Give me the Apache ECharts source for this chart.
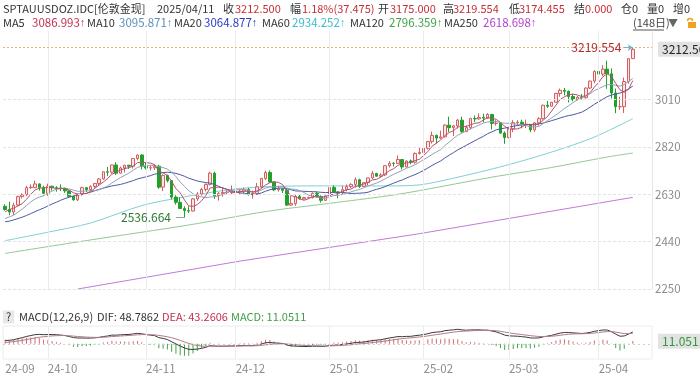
<!DOCTYPE html>
<html>
<head>
<meta charset="utf-8">
<script src="https://cdn.jsdelivr.net/npm/echarts@6/dist/echarts.min.js"></script>
<style>
  html, body { margin: 0; padding: 0; background: #fff; }
  #chart { width: 700px; height: 377px; }
</style>
</head>
<body>
<div id="chart"></div>
<script>
// 日线 [open, close, low, high]，2024-09-17 ~ 2025-04-11，共148日
const candles = [
  [2582,2569,2565,2590],[2569,2559,2546,2600],[2559,2586,2547,2596],[2587,2621,2584,2625],[2621,2628,2614,2634],
  [2628,2657,2624,2664],[2657,2659,2652,2670],[2657,2672,2655,2685],[2672,2658,2645,2674],[2658,2634,2625,2665],
  // 10月
  [2634,2663,2624,2673],[2663,2657,2645,2664],[2657,2656,2641,2663],[2656,2653,2643,2670],[2653,2644,2636,2657],
  [2644,2622,2615,2646],[2622,2608,2605,2625],[2608,2630,2603,2633],[2630,2657,2625,2661],[2657,2649,2640,2658],
  [2649,2662,2642,2666],[2662,2674,2654,2675],[2674,2692,2664,2696],[2692,2721,2689,2722],[2721,2719,2703,2740],
  [2719,2748,2713,2749],[2748,2715,2708,2759],[2715,2736,2715,2742],[2736,2747,2718,2749],[2747,2743,2732,2748],
  [2743,2774,2734,2774],[2774,2788,2766,2790],[2788,2743,2730,2791],
  // 11月
  [2743,2736,2730,2760],[2736,2737,2726,2746],[2737,2743,2728,2750],[2743,2659,2652,2749],[2659,2706,2643,2710],
  [2706,2685,2678,2709],[2685,2619,2610,2686],[2619,2598,2589,2626],[2598,2573,2572,2618],[2573,2565,2536.664,2582],
  [2565,2563,2555,2582],[2563,2612,2562,2615],[2612,2631,2604,2639],[2631,2650,2626,2656],[2650,2670,2642,2674],
  [2670,2715,2666,2721],[2715,2625,2612,2721],[2625,2633,2605,2639],[2633,2638,2621,2657],[2638,2639,2630,2646],
  [2639,2643,2631,2666],
  // 12月
  [2643,2640,2621,2650],[2640,2643,2632,2649],[2643,2650,2634,2657],[2650,2632,2625,2656],[2632,2633,2613,2645],
  [2633,2660,2631,2676],[2660,2694,2655,2696],[2694,2718,2688,2725],[2718,2680,2677,2726],[2680,2648,2643,2682],
  [2648,2652,2641,2664],[2652,2646,2635,2654],[2646,2587,2583,2655],[2587,2593,2584,2625],[2593,2622,2584,2632],
  [2622,2612,2609,2630],[2612,2617,2610,2620],[2617,2617,2612,2621],[2617,2634,2613,2638],[2634,2621,2617,2641],
  [2621,2606,2597,2626],[2606,2624,2603,2627],
  // 1月
  [2624,2658,2624,2664],[2658,2640,2636,2666],[2640,2636,2614,2642],[2636,2649,2630,2664],[2649,2661,2642,2670],
  [2661,2670,2656,2675],[2670,2689,2657,2698],[2689,2662,2656,2693],[2662,2677,2660,2679],[2677,2696,2666,2697],
  [2696,2714,2691,2724],[2714,2703,2701,2716],[2703,2708,2697,2715],[2708,2745,2703,2746],[2745,2755,2738,2763],
  [2755,2754,2742,2759],[2754,2770,2752,2786],[2770,2740,2730,2772],[2740,2764,2738,2766],[2764,2759,2751,2770],
  [2759,2794,2753,2799],[2794,2798,2790,2817],
  // 2月
  [2798,2815,2772,2830],[2815,2842,2810,2845],[2842,2867,2834,2882],[2867,2856,2834,2870],[2856,2861,2853,2886],
  [2861,2908,2858,2911],[2908,2898,2880,2942],[2898,2905,2864,2909],[2905,2928,2894,2933],[2928,2882,2877,2942],
  [2882,2898,2880,2907],[2898,2935,2890,2937],[2935,2933,2920,2947],[2933,2939,2930,2955],[2939,2936,2919,2954],
  [2936,2951,2933,2956],[2951,2915,2890,2953],[2915,2916,2906,2928],[2916,2876,2874,2920],[2876,2858,2833,2883],
  // 3月
  [2858,2893,2855,2895],[2893,2918,2880,2928],[2918,2920,2904,2928],[2920,2910,2895,2930],[2910,2911,2896,2930],
  [2910,2889,2880,2913],[2889,2917,2881,2921],[2917,2934,2906,2940],[2934,2988,2930,2990],[2988,2984,2977,3005],
  [2984,3000,2982,3001],[3000,3035,2999,3038],[3035,3048,3022,3055],[3048,3044,3028,3057],[3044,3023,2999,3047],
  [3023,3011,3004,3035],[3011,3020,3008,3025],[3020,3018,3011,3033],[3018,3057,3015,3059],[3057,3085,3053,3087],
  [3085,3124,3076,3128],
  // 4月
  [3124,3113,3101,3149],[3113,3133,3105,3149],[3133,3114,3054,3167],[3114,3037,3015,3136],[3037,2982,2956,3055],
  [2982,2982,2970,3022],[2982,3083,2957,3099],[3083,3175,3074,3176],[3175,3212.5,3174.455,3219.554]
];

// 窗口之前的收盘价（用于 MA / MACD 预热）
const priorCloses = [2512,2485,2512,2518,2524,2504,2521,2503,2500,2493,2495,2517,2497,2506,2516,2512,2558,2578,2582];

// 长周期均线：[K线序号, 值]
const ma60Pts  = [[0,2444],[10,2478],[20,2515],[32,2585],[42,2620],[54,2652],[65,2663],[76,2664],[90,2664],[97,2668],[105,2695],[117,2745],[128,2800],[138,2860],[147,2934]];
const ma120Pts = [[0,2393],[20,2447],[43,2507],[61,2561],[76,2594],[90,2625],[97,2645],[114,2699],[128,2738],[141,2780],[147,2796]];
const ma250Pts = [[17,2250],[55,2362],[97,2472],[147,2618]];

const yTicks = [2250, 2440, 2630, 2820, 3010];
const hiPoint = 3219.554, loPoint = 2536.664, lastClose = 3212.5, lastMacd = 11.0511;

// 交易日（工作日，元旦休市）
const dates = [];
for (let d = new Date(Date.UTC(2024, 8, 17)); d <= new Date(Date.UTC(2025, 3, 11)); d.setUTCDate(d.getUTCDate() + 1)) {
  const wd = d.getUTCDay();
  const s = d.toISOString().slice(0, 10);
  if (wd === 0 || wd === 6 || s === '2025-01-01') continue;
  dates.push(s);
}
const cats = dates.concat(['p1', 'p2', 'p3', 'p4']);   // 右侧留白
const monthStarts = dates.map((s, i) => (i === 0 || s.slice(0, 7) !== dates[i - 1].slice(0, 7)) ? i : -1).filter(i => i >= 0);

const closes = candles.map(c => c[1]);
const allCloses = priorCloses.concat(closes);
const off = priorCloses.length;

function sma(n) {
  return closes.map((_, i) => {
    let s = 0;
    for (let k = i + off - n + 1; k <= i + off; k++) s += allCloses[k];
    return +(s / n).toFixed(3);
  });
}
function ema(arr, n) {
  const k = 2 / (n + 1);
  let prev = arr[0];
  return arr.map((v, i) => (prev = i === 0 ? v : v * k + prev * (1 - k)));
}
const e12 = ema(allCloses, 12), e26 = ema(allCloses, 26);
const difAll = allCloses.map((_, i) => e12[i] - e26[i]);
const deaAll = ema(difAll, 9);
const dif = difAll.slice(off).map(v => +v.toFixed(3));
const dea = deaAll.slice(off).map(v => +v.toFixed(3));
const hist = dif.map((v, i) => +(2 * (v - dea[i])).toFixed(3));

const RED = '#c62f35';
const FONT = '"Noto Sans CJK SC", "Noto Sans", sans-serif';
const C = {
  ma5: '#b8506e', ma10: '#8fa3b8', ma20: '#4b5aa3', ma60: '#7fd0d8', ma120: '#93c993', ma250: '#c27ad8',
  grid: '#ebebeb', label: '#8c8c8c', up: '#d35f5f', upFill: '#fbe6e6', down: '#22a02c'
};
const NONE = 'rgba(0,0,0,0)';

function txt(text, x, y, fill, size) {
  return { type: 'text', x, y, silent: true,
    style: { text, fill, font: (size || 11) + 'px ' + FONT, verticalAlign: 'middle' } };
}
// 数值 + 窄箭头
function maVal(text, x, y, fill) {
  return { type: 'text', x, y, silent: true,
    style: { text: '{v|' + text + '}{a|↑}', fill, verticalAlign: 'middle',
      rich: { v: { fontFamily: FONT, fontSize: 11.5, fill }, a: { fontFamily: 'Liberation Sans', fontSize: 11, fill } } } };
}

const row1 = [
  ['SPTAUUSDOZ.IDC[伦敦金现]', 3, '#333'], ['2025/04/11', 157, '#333'],
  ['收', 223, '#333'], ['3212.500', 235, RED], ['幅', 290, '#333'], ['1.18%(37.475)', 302, RED],
  ['开', 378, '#333'], ['3175.000', 390, RED], ['高', 443, '#333'], ['3219.554', 453, RED],
  ['低', 509, '#333'], ['3174.455', 519, RED], ['结', 574, '#333'], ['0.000', 585, RED],
  ['仓0', 621, '#333'], ['量0', 647, '#333'], ['增0', 673, '#333']
];
const row2Labels = [['MA5', 3], ['MA10', 87], ['MA20', 174], ['MA60', 262], ['MA120', 350], ['MA250', 444]];
const row2Values = [
  ['3086.993', 32, '#c2304f'], ['3095.871', 119, '#5a8fb8'], ['3064.877', 204, '#2a3cc4'],
  ['2934.252', 292, '#39bccb'], ['2796.359', 389, '#3ea34a'], ['2618.698', 483, '#b342d2']
];
const row3 = [
  ['MACD(12,26,9)', 19, '#333'], ['DIF: 48.7862', 97, '#333'],
  ['DEA: 43.2606', 162, '#c2304f'], ['MACD: 11.0511', 231, '#3f9f46']
];

const graphic = []
  .concat(row1.map(r => txt(r[0], r[1], 9, r[2])))
  .concat(row2Labels.map(r => txt(r[0], r[1], 23, '#333')))
  .concat(row2Values.map(r => maVal(r[0], r[1], 23, r[2])))
  .concat(row3.map(r => txt(r[0], r[1], 317, r[2], 11)))
  .concat([
    txt('(148日)', 633, 23, '#444'),
    { type: 'line', silent: true, shape: { x1: 633, y1: 30, x2: 664, y2: 30 }, style: { stroke: '#555', lineWidth: 1 } },
    txt('▼', 668, 23, '#666', 10),
    { type: 'rect', silent: true, shape: { x: 688, y: 22, width: 8, height: 6 }, style: { fill: '#f0a224' } },
    { type: 'arc', silent: true, shape: { cx: 690, cy: 21, r: 2.5, startAngle: Math.PI, endAngle: Math.PI * 2 }, style: { stroke: '#f0a224', fill: 'none', lineWidth: 1.5 } },
    { type: 'text', x: 3, y: 317, silent: true,
      style: { text: '?', fill: '#333', font: '11px ' + FONT, verticalAlign: 'middle', backgroundColor: '#e8e8e8', padding: [1, 3] } }
  ]);

const vLines = monthStarts.slice(1).map(i => ({ xAxis: dates[i], lineStyle: { color: C.grid, type: 'solid', width: 1 } }));

const chart = echarts.init(document.getElementById('chart'), null, { renderer: 'canvas' });
chart.setOption({
  animation: false,
  backgroundColor: '#fff',
  textStyle: { fontFamily: FONT },
  graphic,
  grid: [
    { left: 3, right: 48, top: 31, height: 258 },
    { left: 3, right: 48, top: 326, height: 33, show: true, borderColor: '#ececec', borderWidth: 1 }
  ],
  xAxis: [
    { type: 'category', gridIndex: 0, data: cats, boundaryGap: true,
      axisLine: { show: false }, axisTick: { show: false }, axisLabel: { show: false }, splitLine: { show: false } },
    { type: 'category', gridIndex: 1, data: cats, boundaryGap: true,
      axisLine: { show: false }, axisTick: { show: false }, splitLine: { show: false },
      axisLabel: { interval: (i) => monthStarts.includes(i), formatter: v => v.slice(2, 7),
        align: 'left', color: C.label, fontSize: 11.5, margin: 4 } }
  ],
  yAxis: [
    { type: 'value', gridIndex: 0, position: 'right', min: 2250, max: 3286,
      splitLine: { show: false }, axisTick: { show: false },
      axisLine: { show: true, lineStyle: { color: '#e6e6e6' } },
      axisLabel: { customValues: yTicks, formatter: v => String(v), color: C.label, fontSize: 11.5, margin: 3 } },
    { type: 'value', gridIndex: 1, position: 'right', min: -62, max: 73,
      splitLine: { show: false }, axisTick: { show: false }, axisLine: { show: false }, axisLabel: { show: false } }
  ],
  series: [
    { type: 'candlestick', name: 'K', xAxisIndex: 0, yAxisIndex: 0, data: candles, barWidth: 3, z: 3,
      itemStyle: { color: C.upFill, borderColor: C.up, color0: C.down, borderColor0: C.down, borderWidth: 1 },
      markLine: {
        silent: true, symbol: ['none', 'none'], animation: false, label: { show: false },
        data: yTicks.map(v => ({ yAxis: v, lineStyle: { color: '#e3e3e3', type: [3, 2], width: 1 } }))
          .concat(vLines)
          .concat([
            { yAxis: hiPoint, lineStyle: { color: '#e2b870', type: [2, 2], width: 1 } },
            { yAxis: lastClose, lineStyle: { color: NONE },
              label: { show: true, position: 'end', distance: 6, formatter: '3212.500', color: '#222', fontSize: 12,
                backgroundColor: '#e2e2e2', padding: [2, 4, 1, 4] } },
            [{ coord: [dates[145], hiPoint], symbol: 'none' },
             { coord: [dates[147], hiPoint], symbol: 'arrow', symbolSize: 5, lineStyle: { color: '#6fb1c6', width: 1, type: 'solid' } }],
            [{ coord: [dates[40], loPoint], symbol: 'none' },
             { coord: [dates[42], loPoint], symbol: 'none', lineStyle: { color: '#8aa89a', width: 1, type: 'solid' } }]
          ])
      },
      markPoint: {
        silent: true, symbol: 'circle', symbolSize: 1, itemStyle: { color: NONE },
        data: [
          { coord: [dates[147], hiPoint], label: { show: true, position: 'left', distance: 11, formatter: '3219.554', color: '#b8282d', fontSize: 12 } },
          { coord: [dates[42], loPoint], label: { show: true, position: 'left', distance: 13, formatter: '2536.664', color: '#2c7a30', fontSize: 12 } }
        ]
      }
    },
    { type: 'line', name: 'MA250', data: ma250Pts, showSymbol: false, lineStyle: { width: 1, color: C.ma250 }, z: 2 },
    { type: 'line', name: 'MA120', data: ma120Pts, smooth: 0.3, showSymbol: false, lineStyle: { width: 1, color: C.ma120 }, z: 2 },
    { type: 'line', name: 'MA60', data: ma60Pts, smooth: 0.3, showSymbol: false, lineStyle: { width: 1, color: C.ma60 }, z: 2 },
    { type: 'line', name: 'MA20', data: sma(20), showSymbol: false, lineStyle: { width: 1, color: C.ma20 }, z: 4 },
    { type: 'line', name: 'MA10', data: sma(10), showSymbol: false, lineStyle: { width: 1, color: C.ma10 }, z: 4 },
    { type: 'line', name: 'MA5', data: sma(5), showSymbol: false, lineStyle: { width: 1, color: C.ma5 }, z: 4 },
    { type: 'bar', name: 'MACD', xAxisIndex: 1, yAxisIndex: 1, data: hist, barWidth: 1,
      itemStyle: { color: p => p.value >= 0 ? '#d46a6a' : '#3ea646' },
      markLine: {
        silent: true, symbol: ['none', 'none'], animation: false, label: { show: false },
        data: vLines.concat([
          { yAxis: 0, lineStyle: { color: '#d0d0d0', type: [2, 3], width: 1 } },
          { yAxis: lastMacd, lineStyle: { color: NONE },
            label: { show: true, position: 'end', distance: 6, formatter: '11.0511', color: '#2f9a37', fontSize: 12,
              backgroundColor: '#e2e2e2', padding: [2, 4, 1, 4] } }
        ])
      }
    },
    { type: 'line', name: 'DIF', xAxisIndex: 1, yAxisIndex: 1, data: dif, showSymbol: false, lineStyle: { width: 1, color: '#3a3a3a' } },
    { type: 'line', name: 'DEA', xAxisIndex: 1, yAxisIndex: 1, data: dea, showSymbol: false, lineStyle: { width: 1, color: '#b47a8a' } }
  ]
});
</script>
</body>
</html>
